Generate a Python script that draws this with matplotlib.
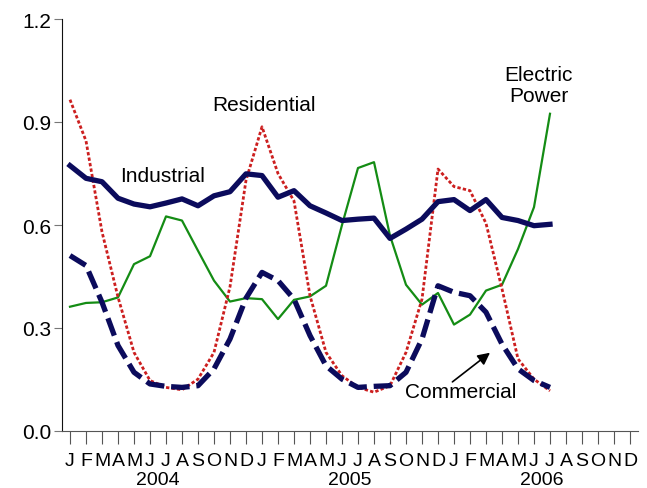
import numpy as np
import matplotlib.pyplot as plt

plt.rcParams['font.family'] = ['Liberation Sans', 'DejaVu Sans']

# monthly values, Jan 2004 .. Jul 2006
industrial = [0.773, 0.736, 0.726, 0.678, 0.661, 0.653, 0.664, 0.676, 0.656, 0.685,
              0.697, 0.749, 0.744, 0.681, 0.700, 0.656, 0.635, 0.613, 0.617, 0.620,
              0.561, 0.588, 0.617, 0.668, 0.674, 0.642, 0.674, 0.622, 0.613, 0.598,
              0.602]
commercial = [0.511, 0.482, 0.375, 0.249, 0.171, 0.137, 0.130, 0.127, 0.132, 0.181,
              0.268, 0.387, 0.462, 0.438, 0.384, 0.278, 0.190, 0.151, 0.127, 0.130,
              0.132, 0.171, 0.268, 0.423, 0.404, 0.394, 0.346, 0.253, 0.181, 0.147,
              0.127]
residential = [0.965, 0.845, 0.580, 0.390, 0.229, 0.147, 0.127, 0.120, 0.151, 0.229,
               0.420, 0.730, 0.886, 0.750, 0.670, 0.394, 0.229, 0.161, 0.127, 0.113,
               0.132, 0.229, 0.384, 0.763, 0.712, 0.700, 0.605, 0.414, 0.210, 0.151,
               0.117]
electric = [0.362, 0.373, 0.375, 0.389, 0.486, 0.509, 0.625, 0.613, 0.525, 0.438,
            0.377, 0.387, 0.384, 0.326, 0.382, 0.392, 0.423, 0.600, 0.766, 0.783,
            0.569, 0.426, 0.368, 0.402, 0.310, 0.339, 0.409, 0.426, 0.530, 0.652,
            0.924]

month_letters = list("JFMAMJJASOND") * 3
years = ["2004", "2005", "2006"]

NAVY = "#0b0b5c"
RED = "#cc1f1f"
GREEN = "#148c14"

fig = plt.figure(figsize=(6.47, 4.89), dpi=100)
ax = fig.add_axes([62 / 647, 1 - 432 / 489, 576 / 647, 412 / 489])

x = np.arange(len(industrial))
ax.plot(x, electric, color=GREEN, lw=1.6, zorder=2)
ax.plot(x, residential, color=RED, lw=2.0, linestyle=(0, (1.2, 0.8)), zorder=3)
ax.plot(x, commercial, color=NAVY, lw=3.8, linestyle=(0, (3.5, 1.3)), zorder=4)
ax.plot(x, industrial, color=NAVY, lw=3.8, solid_joinstyle='round', zorder=5)

ax.set_xlim(-0.5, 35.5)
ax.set_ylim(0, 1.2)
ax.set_yticks([0.0, 0.3, 0.6, 0.9, 1.2])
ax.set_yticklabels(["0.0", "0.3", "0.6", "0.9", "1.2"], fontsize=15)
ax.tick_params(axis='y', length=6, color='#777777', pad=2)

ax.set_xticks(np.arange(36))
ax.set_xticklabels(month_letters, fontsize=14)
ax.tick_params(axis='x', length=9, color='#555555', pad=6)
for i, yr in enumerate(years):
    ax.text(5.5 + 12 * i, -0.14, yr, fontsize=14, ha='center', va='center',
            clip_on=False)

for s in ['top', 'right']:
    ax.spines[s].set_visible(False)
ax.spines['bottom'].set_color('#555555')
ax.spines['left'].set_color('#111111')

ax.text(5.8, 0.745, "Industrial", fontsize=15, ha='center', va='center')
ax.text(12.1, 0.95, "Residential", fontsize=15, ha='center', va='center')
ax.text(29.3, 1.008, "Electric\nPower", fontsize=15, ha='center', va='center',
        linespacing=1.15)
ax.text(24.4, 0.115, "Commercial", fontsize=15, ha='center', va='center')
ax.annotate("", xy=(26.25, 0.228), xytext=(23.9, 0.143),
            arrowprops=dict(arrowstyle='-|>', color='black', lw=1.2,
                            mutation_scale=18, shrinkA=0, shrinkB=0))

fig.savefig("out.png", dpi=100)
